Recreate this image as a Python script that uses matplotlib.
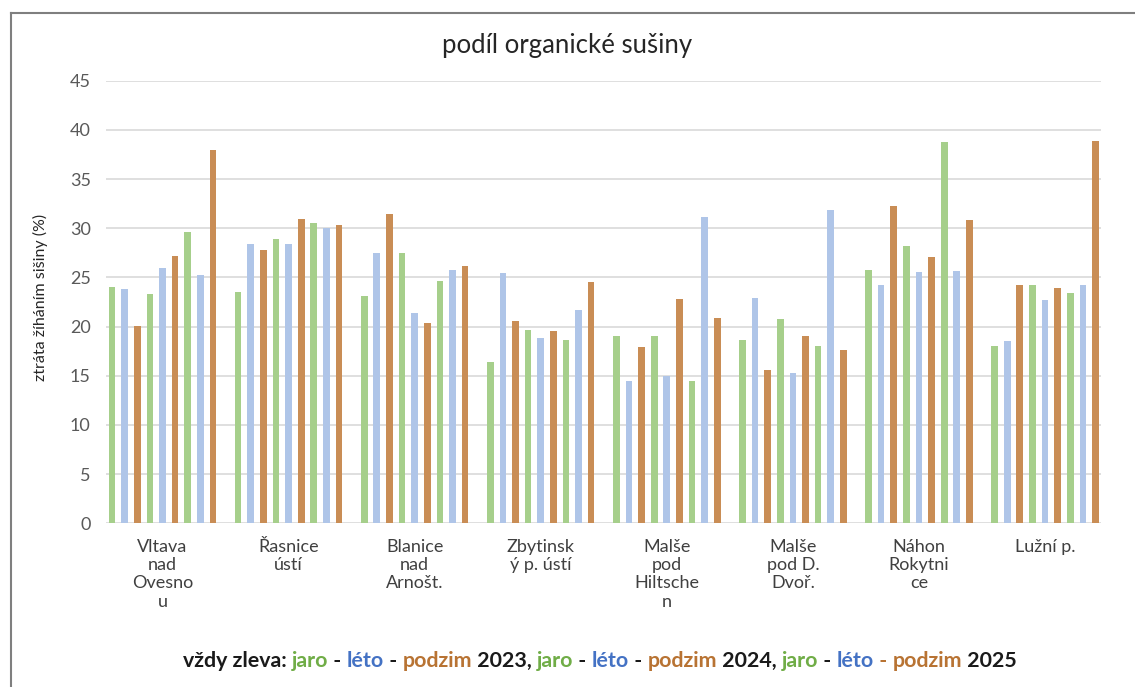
import matplotlib
matplotlib.use("Agg")
import matplotlib.pyplot as plt
from matplotlib.lines import Line2D
import numpy as np

plt.rcParams['font.family'] = ['Lato', 'DejaVu Sans']

# lokality (popisky osy x, zalomené jako v originále)
lokality = ["Vltava\nnad\nOvesno\nu", "Řasnice\nústí", "Blanice\nnad\nArnošt.",
            "Zbytinsk\ný p. ústí", "Malše\npod\nHiltsche\nn", "Malše\npod D.\nDvoř.",
            "Náhon\nRokytni\nce", "Lužní p."]

# hodnoty (%) - pořadí: jaro, léto, podzim 2023, 2024, 2025
jaro_2023 = [24.0, 23.5, 23.1, 16.4, 19.0, 18.6, 25.8, 18.0]
leto_2023 = [23.8, 28.4, 27.5, 25.4, 14.5, 22.9, 24.2, 18.5]
podzim_2023 = [20.1, 27.8, 31.4, 20.6, 17.9, 15.6, 32.3, 24.2]
jaro_2024 = [23.3, 28.9, 27.5, 19.7, 19.0, 20.8, 28.2, 24.2]
leto_2024 = [26.0, 28.4, 21.4, 18.8, 15.0, 15.3, 25.5, 22.7]
podzim_2024 = [27.2, 30.9, 20.4, 19.6, 22.8, 19.0, 27.1, 23.9]
jaro_2025 = [29.6, 30.5, 24.6, 18.6, 14.5, 18.0, 38.8, 23.4]
leto_2025 = [25.2, 30.0, 25.8, 21.7, 31.1, 31.9, 25.7, 24.2]
podzim_2025 = [38.0, 30.3, 26.2, 24.5, 20.9, 17.6, 30.8, 38.9]

serie = [jaro_2023, leto_2023, podzim_2023,
         jaro_2024, leto_2024, podzim_2024,
         jaro_2025, leto_2025, podzim_2025]

c_jaro, c_leto, c_podzim = '#A6CF8B', '#AFC5E8', '#C98D55'
barvy = [c_jaro, c_leto, c_podzim] * 3

fig = plt.figure(figsize=(11.35, 6.87), dpi=100)
ax = fig.add_axes([106 / 1135, 1 - 523.3 / 687, 995 / 1135, 442.6 / 687])

x = np.arange(len(lokality))
krok = 0.1
sirka = 0.053
for i, (hodnoty, barva) in enumerate(zip(serie, barvy)):
    ax.bar(x + (i - 4) * krok, hodnoty, width=sirka, color=barva, zorder=3)

ax.set_xlim(-0.448, 7.444)
ax.set_ylim(0, 45)
ax.set_yticks(np.arange(0, 46, 5))
ax.yaxis.grid(True, color='#D9D9D9', linewidth=1.2, zorder=0)
ax.set_xticks(x)
ax.set_xticklabels(lokality, fontsize=13, color='#404040', linespacing=1.18, va='top')
ax.tick_params(axis='both', length=0)
ax.tick_params(axis='y', labelsize=13, colors='#595959', pad=11)
ax.tick_params(axis='x', pad=11)
for s in ax.spines.values():
    s.set_visible(False)

ax.set_ylabel('ztráta žíháním sišiny (%)', fontsize=11.5, color='#262626')
ax.yaxis.set_label_coords(-0.058, 0.511)
fig.text(0.5, 1 - 45 / 687, 'podíl organické sušiny', ha='center', va='center',
         fontsize=18.5, color='#262626')

# rámeček okolo grafu
fig.add_artist(Line2D([11 / 1135, 11 / 1135], [0, 1 - 13 / 687], color='#7F7F7F', lw=1.5))
fig.add_artist(Line2D([11 / 1135, 1134 / 1135], [1 - 13 / 687, 1 - 13 / 687], color='#7F7F7F', lw=1.5))

# barevná poznámka pod grafem, skládaná po částech
cerna, zelena, modra, hneda = '#1A1A1A', '#70AD47', '#4472C4', '#B87333'
casti = [("vždy zleva: ", cerna), ("jaro", zelena), (" - ", cerna),
         ("léto", modra), (" - ", cerna), ("podzim", hneda),
         (" 2023, ", cerna), ("jaro", zelena), (" - ", cerna),
         ("léto", modra), (" - ", cerna), ("podzim", hneda),
         (" 2024, ", cerna), ("jaro", zelena), (" - ", cerna),
         ("léto", modra), (" - ", hneda), ("podzim", hneda),
         (" 2025", cerna)]
prev = fig.text(183 / 1135, 1 - 661 / 687, casti[0][0], color=casti[0][1],
                fontsize=15.4, fontweight='bold', va='center')
for text, barva in casti[1:]:
    prev = ax.annotate(text, xy=(1, 0.5), xycoords=prev, va='center', ha='left',
                       color=barva, fontsize=15.4, fontweight='bold', annotation_clip=False)

fig.savefig('out.png', dpi=100)
